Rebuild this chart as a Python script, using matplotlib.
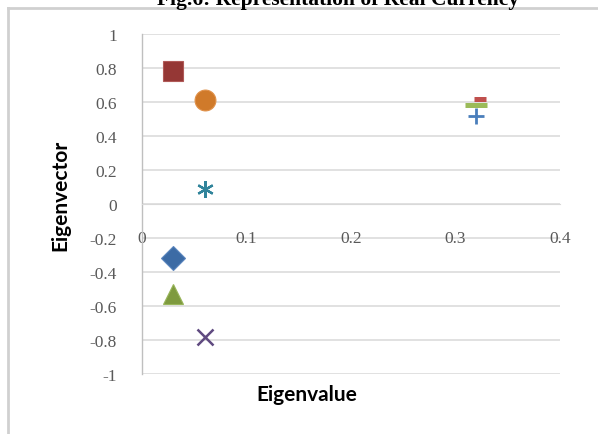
import matplotlib
matplotlib.use("Agg")
import matplotlib.pyplot as plt

# Eigen-decomposition results: one point per series
series_names = ["S1", "S2", "S3", "S4", "S5", "S6", "S7", "S8", "S9"]
eigenvalues = [0.03, 0.03, 0.03, 0.06, 0.06, 0.06, 0.32, 0.323, 0.32]
eigenvectors = [-0.32, 0.78, -0.53, -0.78, 0.09, 0.61, 0.52, 0.615, 0.585]

x_ticks = [0, 0.1, 0.2, 0.3, 0.4]
x_tick_labels = ["0", "0.1", "0.2", "0.3", "0.4"]
y_ticks = [1, 0.8, 0.6, 0.4, 0.2, 0, -0.2, -0.4, -0.6, -0.8, -1]
y_tick_labels = ["1", "0.8", "0.6", "0.4", "0.2", "0", "-0.2", "-0.4", "-0.6", "-0.8", "-1"]

title_text = "Fig.6: Representation of Real Currency"
x_title = "Eigenvalue"
y_title = "Eigenvector"

# marker style per series (face, edge, marker, size, edge width)
styles = [
    dict(marker="D", ms=12.5, mfc="#3C6BA5", mec="#5A85BE", mew=0.8),
    dict(marker="s", ms=14.5, mfc="#953735", mec="#B05A58", mew=0.8),
    dict(marker="^", ms=15, mfc="#7E9A3E", mec="#98B55A", mew=0.8),
    dict(marker="x", ms=11, mfc="none", mec="#5F4A80", mew=1.8),
    dict(marker=(6, 2, 0), ms=12, mfc="none", mec="#31849B", mew=1.6),
    dict(marker="o", ms=15, mfc="#D07A2A", mec="#E0914A", mew=0.8),
    dict(marker="+", ms=11, mfc="none", mec="#4A7EBB", mew=2.0),
    dict(marker="_", ms=8.5, mfc="none", mec="#C0504D", mew=3.6),
    dict(marker="_", ms=15.5, mfc="none", mec="#9BBB59", mew=3.6),
]

W, H = 598, 435
fig = plt.figure(figsize=(W / 100, H / 100), dpi=100)
fig.patch.set_facecolor("white")

# plot area in pixel space
left, right, top, bottom = 142, 560, 35, 375
ax = fig.add_axes([left / W, 1 - bottom / H, (right - left) / W, (bottom - top) / H])
ax.set_xlim(0, 0.4)
ax.set_ylim(-1, 1)

grid_color = "#D9D9D9"
for yv in y_ticks:
    ax.axhline(yv, color=grid_color, lw=1.1, zorder=0)

for s in ["top", "right"]:
    ax.spines[s].set_visible(False)
ax.spines["left"].set_color("#BFBFBF")
ax.spines["left"].set_linewidth(1.0)

# horizontal axis crosses at zero; labels hang below it
ax.spines["bottom"].set_position(("data", 0))
ax.spines["bottom"].set_color("#D9D9D9")

ax.set_yticks(y_ticks)
ax.set_yticklabels(y_tick_labels)
ax.set_xticks(x_ticks)
ax.set_xticklabels(x_tick_labels)
ax.tick_params(axis="both", length=0, colors="#595959", labelsize=12.5,
               labelfontfamily="Liberation Serif")
ax.tick_params(axis="y", pad=18)
ax.tick_params(axis="x", pad=19)

for xv, yv, st in zip(eigenvalues, eigenvectors, styles):
    ax.plot([xv], [yv], linestyle="none", zorder=3, **st)

# axis titles
fig.text(307 / W, 1 - 395 / H, x_title, ha="center", va="center",
         fontsize=15, fontweight="bold", family="Lato")
fig.text(60 / W, 1 - 195 / H, y_title, ha="center", va="center", rotation=90,
         fontsize=15, fontweight="bold", family="Lato")

# chart frame (open at right and bottom edges of the canvas)
fig.add_artist(plt.Line2D([7.5 / W, 7.5 / W], [0, 1 - 9 / H], color="#D0D0D0", lw=2.0,
                          transform=fig.transFigure))
fig.add_artist(plt.Line2D([7.5 / W, 1], [1 - 9 / H, 1 - 9 / H], color="#D0D0D0", lw=2.0,
                          transform=fig.transFigure))

# caption sitting above the chart, running past the top edge of the canvas
fig.text(338 / W, 1 - 5 / H, title_text, ha="center", va="baseline",
         fontsize=15.5, fontweight="bold", family="Liberation Serif")

fig.savefig("out.png", dpi=100, facecolor="white")
